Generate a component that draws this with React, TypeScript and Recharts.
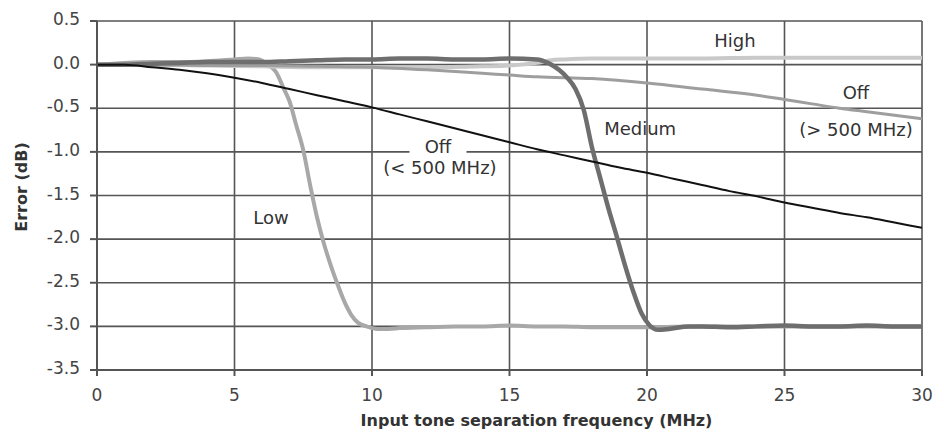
import React from 'react';
import { LineChart, Line, XAxis, YAxis, CartesianGrid, ReferenceDot } from 'recharts';

// x values in MHz, y values in dB
const xTicks = [0, 5, 10, 15, 20, 25, 30];
const yTicks = [0.5, 0, -0.5, -1, -1.5, -2, -2.5, -3, -3.5];

const offBelowX = [0, 1, 2, 3, 4, 5, 6, 7, 8, 9, 10, 11, 12, 13, 14, 15, 16, 17, 18, 19, 20, 21, 22, 23, 24, 25, 26, 27, 28, 29, 30];
const offBelowY = [0, 0, -0.03, -0.06, -0.1, -0.15, -0.21, -0.28, -0.35, -0.42, -0.49, -0.57, -0.65, -0.73, -0.81, -0.89, -0.97, -1.04, -1.11, -1.18, -1.24, -1.31, -1.38, -1.45, -1.51, -1.58, -1.64, -1.7, -1.75, -1.81, -1.87];

const lowX = [0, 1, 2, 3, 4, 5, 5.5, 5.9, 6.2, 6.5, 6.8, 7.0, 7.25, 7.5, 7.75, 8.0, 8.25, 8.5, 8.75, 9.0, 9.25, 9.5, 9.8, 10.2, 10.6, 11, 12, 13, 14, 15, 16, 17, 18, 19, 20, 22, 24, 26, 28, 30];
const lowY = [0, 0.02, 0.03, 0.03, 0.04, 0.06, 0.07, 0.06, 0.0, -0.08, -0.28, -0.42, -0.7, -0.98, -1.38, -1.75, -2.05, -2.3, -2.52, -2.72, -2.87, -2.96, -3.0, -3.03, -3.03, -3.02, -3.01, -3.0, -3.0, -2.99, -3.0, -3.0, -3.01, -3.01, -3.01, -3.0, -3.0, -3.0, -3.0, -3.0];

const mediumX = [0, 1, 2, 3, 4, 5, 6, 7, 8, 9, 10, 11, 12, 13, 14, 15, 16, 16.4, 16.8, 17.1, 17.4, 17.7, 18.0, 18.3, 18.6, 18.9, 19.2, 19.5, 19.8, 20.1, 20.4, 20.8, 21.5, 22, 23, 24, 25, 26, 27, 28, 29, 30];
const mediumY = [0, 0, 0.01, 0.02, 0.03, 0.03, 0.03, 0.04, 0.05, 0.06, 0.06, 0.07, 0.07, 0.06, 0.06, 0.07, 0.06, 0.02, -0.06, -0.15, -0.28, -0.52, -0.95, -1.3, -1.65, -1.97, -2.3, -2.6, -2.85, -2.99, -3.04, -3.03, -3.0, -3.0, -3.01, -3.0, -2.99, -3.0, -3.0, -2.99, -3.0, -3.0];

const highX = [0, 2, 4, 6, 8, 10, 12, 14, 15, 16, 16.5, 17, 18, 20, 22, 24, 26, 28, 30];
const highY = [0, 0, -0.01, -0.02, -0.03, -0.03, -0.03, -0.02, -0.01, 0.02, 0.05, 0.06, 0.07, 0.07, 0.07, 0.08, 0.08, 0.08, 0.08];

const offAboveX = [0, 2, 4, 6, 8, 10, 12, 14, 15, 16, 18, 20, 22, 24, 25, 26, 27, 28, 29, 30];
const offAboveY = [0, 0, -0.01, -0.01, -0.02, -0.03, -0.06, -0.1, -0.12, -0.14, -0.16, -0.21, -0.28, -0.35, -0.4, -0.45, -0.5, -0.54, -0.58, -0.62];

const toPoints = (xs: number[], ys: number[]) => xs.map((x, i) => ({ x, y: ys[i] }));

const FONT = '"DejaVu Sans", sans-serif';
const GRID = '#555';

type Note = { x: number; y: number; text: string; mask?: number };
const notes: Note[] = [
  { x: 23.2, y: 0.275, text: 'High' },
  { x: 19.75, y: -0.73, text: 'Medium' },
  { x: 27.6, y: -0.32, text: 'Off' },
  { x: 27.6, y: -0.745, text: '(> 500 MHz)' },
  { x: 12.4, y: -0.94, text: 'Off', mask: 57 },
  { x: 12.47, y: -1.18, text: '(< 500 MHz)' },
  { x: 6.33, y: -1.755, text: 'Low' },
];

export default function App() {
  return (
    <div style={{ position: 'absolute', left: 0, top: 0, background: '#fff' }}>
      <LineChart width={944} height={435} margin={{ top: 21, right: 22, bottom: 0, left: 0 }}>
        <CartesianGrid stroke={GRID} strokeWidth={1.6} />
        <XAxis
          type="number"
          dataKey="x"
          domain={[0, 30]}
          ticks={xTicks}
          height={65}
          allowDataOverflow
          stroke={GRID}
          strokeWidth={2}
          tickSize={6}
          tickMargin={13}
          tick={{ fill: '#444', fontSize: 17, fontFamily: FONT }}
          label={{
            content: ({ viewBox }: any) => (
              <text x={viewBox.x + viewBox.width / 2 + 27} y={426} textAnchor="middle" fontFamily={FONT} fontSize={16} fontWeight="bold" fill="#333">
                Input tone separation frequency (MHz)
              </text>
            ),
          }}
        />
        <YAxis
          type="number"
          domain={[-3.5, 0.5]}
          ticks={yTicks}
          width={97}
          allowDataOverflow
          stroke={GRID}
          strokeWidth={2}
          tickSize={7}
          tickMargin={10}
          tickFormatter={(v: number) => v.toFixed(1)}
          tick={{ fill: '#444', fontSize: 17, fontFamily: FONT, dy: -2 }}
          label={{
            content: () => (
              <text x={21} y={187} transform="rotate(-90 21 187)" textAnchor="middle" dominantBaseline="central" fontFamily={FONT} fontSize={16} fontWeight="bold" fill="#333">
                Error (dB)
              </text>
            ),
          }}
        />
        <Line data={toPoints(lowX, lowY)} dataKey="y" type="monotone" stroke="#a8a8a8" strokeWidth={4} dot={false} isAnimationActive={false} />
        <Line data={toPoints(highX, highY)} dataKey="y" type="monotone" stroke="#c9c9c9" strokeWidth={4} dot={false} isAnimationActive={false} />
        <Line data={toPoints(offAboveX, offAboveY)} dataKey="y" type="monotone" stroke="#9e9e9e" strokeWidth={3} dot={false} isAnimationActive={false} />
        <Line data={toPoints(mediumX, mediumY)} dataKey="y" type="monotone" stroke="#6e6e6e" strokeWidth={4.5} dot={false} isAnimationActive={false} />
        <Line data={toPoints(offBelowX, offBelowY)} dataKey="y" type="monotone" stroke="#111" strokeWidth={2} dot={false} isAnimationActive={false} />
        {notes.map((n, i) => (
          <ReferenceDot
            key={i}
            x={n.x}
            y={n.y}
            ifOverflow="visible"
            shape={(p: any) => (
              <g>
                {n.mask ? <rect x={p.cx - n.mask / 2} y={p.cy - 8} width={n.mask} height={16} fill="#fff" /> : null}
                <text x={p.cx} y={p.cy} textAnchor="middle" dominantBaseline="central" fontFamily={FONT} fontSize={18} fill="#333">
                  {n.text}
                </text>
              </g>
            )}
          />
        ))}
      </LineChart>
    </div>
  );
}
